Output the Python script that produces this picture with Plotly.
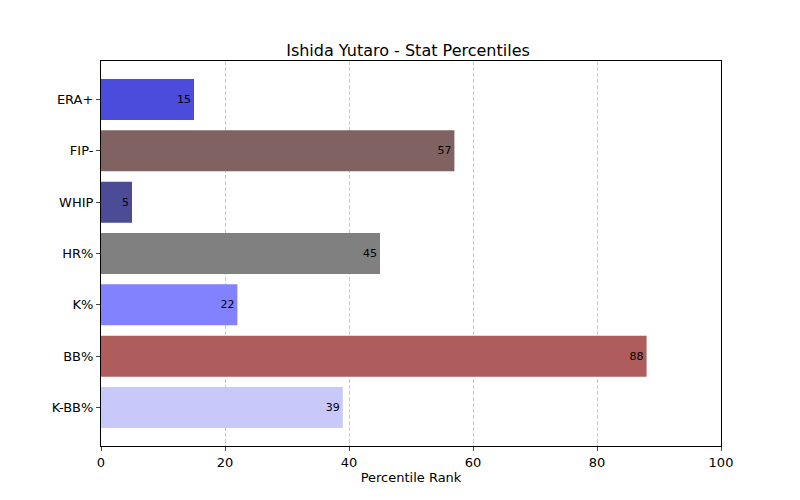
import plotly.graph_objects as go

categories = ["ERA+", "FIP-", "WHIP", "HR%", "K%", "BB%", "K-BB%"]
values = [15, 57, 5, 45, 22, 88, 39]
colors = ["#4b4bdc", "#806262", "#4b4b96", "#808080", "#8282ff", "#ae5c5c", "#c8c8fa"]

fig = go.Figure(go.Bar(
    x=values, y=categories, orientation="h",
    marker=dict(color=colors, line=dict(width=0)),
    width=0.8,
    text=[str(v) for v in values], textposition="inside", insidetextanchor="end",
    textfont=dict(color="black", size=11, family="DejaVu Sans"),
    cliponaxis=False,
))
fig.update_layout(
    width=800, height=500,
    margin=dict(l=93, r=87, t=53, b=62),
    plot_bgcolor="white", paper_bgcolor="white",
    font=dict(family="DejaVu Sans", size=13, color="black"),
    title=dict(text="Ishida Yutaro - Stat Percentiles", x=0.5, xanchor="center",
               y=0.915, yanchor="middle", font=dict(size=16)),
    xaxis=dict(range=[0, 100], tickvals=[0, 20, 40, 60, 80, 100],
               showgrid=True, gridcolor="#cccccc", griddash="4px,2px", gridwidth=1,
               showline=True, linecolor="black", mirror=True, ticks="outside",
               ticklen=4, zeroline=False,
               title=dict(text="Percentile Rank", font=dict(size=13), standoff=4)),
    yaxis=dict(showline=True, linecolor="black", mirror=True,
               ticks="outside", ticklen=4, showgrid=False,
               range=[6.75, -0.75], autorange=False),
    showlegend=False,
)
fig.write_html("out.html")
